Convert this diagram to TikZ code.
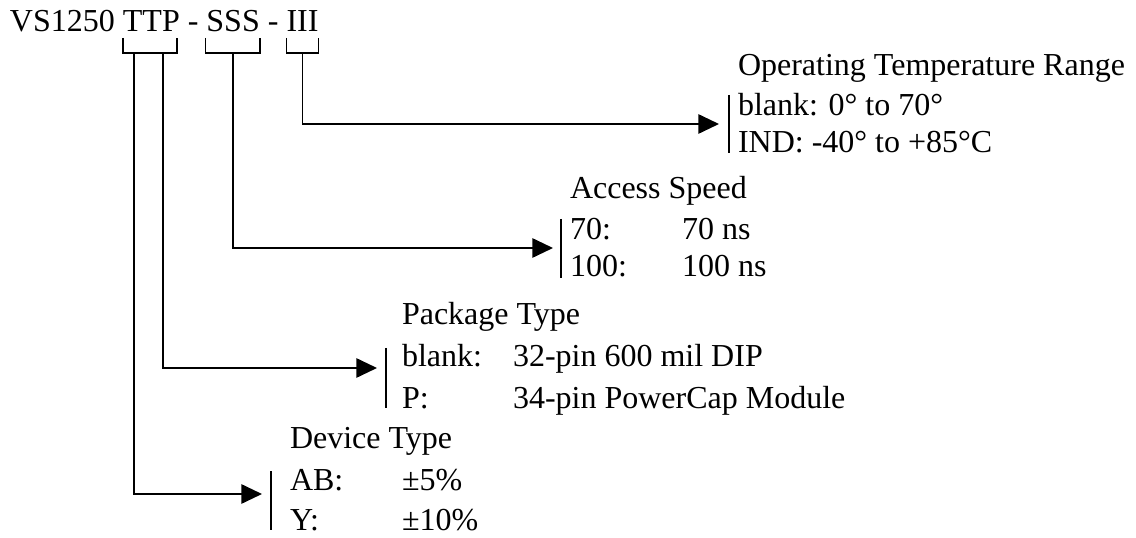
\documentclass[tikz,border=0pt]{standalone}
\usepackage{fontspec}
\setmainfont{Liberation Serif}
\usetikzlibrary{arrows.meta,calc}
\begin{document}
\begin{tikzpicture}[x=0.75pt,y=-0.75pt,
  every node/.style={font=\fontsize{24}{28}\selectfont},
  txt/.style={anchor=base west, inner sep=0pt, outer sep=0pt},
  conn/.style={line width=1.4pt, -{Triangle[length=15.5pt,width=14.5pt]}},
  brk/.style={line width=1.3pt},
  barline/.style={line width=1.3pt}]
\useasboundingbox (0,0) rectangle (1136,538);

% header
\node[txt] (vs)  at (10,32) {VS1250};
\node[txt] (ttp) at ([xshift=6pt]vs.base east) {TTP};
\node[txt] (d1)  at ([xshift=6pt]ttp.base east) {-};
\node[txt] (sss) at ([xshift=6pt]d1.base east) {SSS};
\node[txt] (d2)  at ([xshift=6pt]sss.base east) {-};
\node[txt] (iii) at ([xshift=6pt]d2.base east) {III};

% brackets
\draw[brk] ($(ttp.base west)+(0,6)$) -- ($(ttp.base west)+(0,21)$) -- ($(ttp.base east)+(-3,21)$) -- ($(ttp.base east)+(-3,6)$);
\draw[brk] ($(sss.base west)+(-1,6)$) -- ($(sss.base west)+(-1,21)$) -- ($(sss.base east)+(0,21)$) -- ($(sss.base east)+(0,6)$);
\draw[brk] ($(iii.base west)+(0,6)$) -- ($(iii.base west)+(0,21)$) -- ($(iii.base east)+(0,21)$) -- ($(iii.base east)+(0,6)$);

\coordinate (devsrc) at ($(ttp.base west)+(11,21)$);
\coordinate (pkgsrc) at ($(ttp.base west)+(40,21)$);
\coordinate (spdsrc) at ($(sss.base)+(0,21)$);
\coordinate (tmpsrc) at ($(iii.base)+(0,21)$);

% Operating temperature
\node[txt] (tmph) at (738,76)  {Operating Temperature Range};
\node[txt] (tmp1) at (738,116) {blank: 0° to 70°};
\node[txt] (tmp2) at (738,153) {IND: -40° to +85°C};
\draw[barline] (729,95) -- (729,153);
\coordinate (tmptip) at (719,124);
\draw[conn] (tmpsrc) |- (tmptip);

% Access speed
\node[txt] (spdh)  at (570,199) {Access Speed};
\node[txt] (spd1)  at (570,240) {70:};
\node[txt] (spd1v) at (682,240) {70 ns};
\node[txt] (spd2)  at (570,277) {100:};
\node[txt] (spd2v) at (682,277) {100 ns};
\draw[barline] (561,219) -- (561,278);
\coordinate (spdtip) at (553,248);
\draw[conn] (spdsrc) |- (spdtip);

% Package type
\node[txt] (pkgh)  at (402,325) {Package Type};
\node[txt] (pkg1)  at (402,367) {blank:};
\node[txt] (pkg1v) at (513,367) {32-pin 600 mil DIP};
\node[txt] (pkg2)  at (402,408) {P:};
\node[txt] (pkg2v) at (513,408) {34-pin PowerCap Module};
\draw[barline] (386,348) -- (386,408);
\coordinate (pkgtip) at (377,368);
\draw[conn] (pkgsrc) |- (pkgtip);

% Device type
\node[txt] (devh)  at (290,448) {Device Type};
\node[txt] (dev1)  at (290,490) {AB:};
\node[txt] (dev1v) at (402,490) {±5\%};
\node[txt] (dev2)  at (290,530) {Y:};
\node[txt] (dev2v) at (402,530) {±10\%};
\draw[barline] (271,471) -- (271,530);
\coordinate (devtip) at (262,494);
\draw[conn] (devsrc) |- (devtip);
\end{tikzpicture}
\end{document}
